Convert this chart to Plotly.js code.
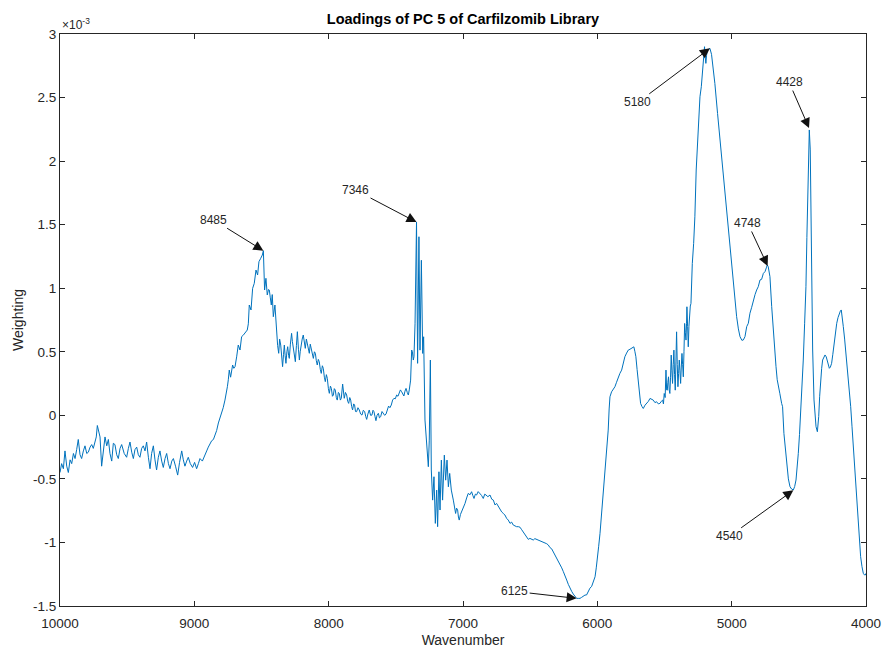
<!DOCTYPE html>
<html>
<head>
<meta charset="utf-8">
<script src="https://cdn.plot.ly/plotly-3.0.1.min.js"></script>
<style>html,body{margin:0;padding:0;background:#fff;}#chart{width:883px;height:648px;}</style>
</head>
<body>
<div id="chart"></div>
<script>
// Wavenumber (cm^-1) and PC5 loading (x10^-3)
const wavenumber = [
10000,9988,9975,9963,9950,9938,9925,9913,9900,9888,9876,9864,9851,9839,9826,9814,9801,9789,9776,9764,
9752,9740,9730,9722,9712,9702,9690,9678,9665,9652,9640,9628,9615,9603,9591,9578,9566,9553,9541,9522,
9504,9491,9479,9466,9454,9442,9429,9417,9405,9392,9380,9367,9355,9342,9330,9318,9305,9293,9281,9268,
9256,9243,9231,9218,9206,9193,9181,9168,9156,9140,9124,9110,9094,9082,9070,9057,9045,9030,9013,8998,
8983,8970,8958,8940,8921,8908,8896,8884,8871,8858,8846,8834,8821,
8809,8797,8785,8772,8763,8754,8747,8740,8730,8722,8715,8706,8697,8685,8673,8660,8648,8636,8623,8606,
8598,8591,8578,8566,8554,8541,8529,8519,8506,8494,8486,8477,8467,8457,8448,8442,8435,8427,8420,8412,
8400,8393,8387,8380,8372,8365,8357,8350,8343,8336,8330,8324,8318,8311,8305,8298,8293,8285,8276,8270,
8263,8255,8248,8240,8233,8225,8218,8212,8206,8197,8189,8181,8174,8166,8159,8151,8144,8137,8129,8121,
8114,8106,8099,8092,8085,8077,8070,8062,8055,8047,8040,8032,8025,8017,8010,8002,7995,7987,7980,7972,
7965,7958,7951,7943,7936,7928,7921,7913,7906,7896,7890,7884,7875,7866,7858,7851,7843,7836,7829,7822,
7814,7807,7800,7792,7782,7772,7762,7752,7742,7732,7724,7717,7708,7698,7688,7678,7670,7663,7655,7648,
7640,7630,7622,7613,7603,7593,7583,7573,7564,7554,7544,7534,7524,7514,7504,7494,7484,7474,7466,7457,
7448,7440,7432,7424,7415,7407,7400,7395,7390,7382,7377,7370,7365,7357,7350,7346,
7338,7328,7320,7310,7300,7293,7283,7271,7258,7251,7243,7236,7226,7216,7206,7196,7189,7179,7171,7161,
7152,7139,7129,7119,7109,7099,7087,7072,7063,7055,7048,7040,7034,7028,7019,7010,6998,6985,6973,6961,
6948,6936,6927,6918,6908,6899,6887,6874,6862,6849,6838,6829,6815,6799,6786,6774,6762,6750,6737,6725,
6712,6700,6688,6675,6663,6650,6638,6626,6613,6601,6588,6576,6563,6551,6538,6526,6514,6502,6490,6477,
6465,6452,6439,6427,6415,6402,6390,6377,6365,6353,6340,6328,6315,6303,6290,6278,6265,6253,6240,6228,
6216,6204,6191,6179,6166,6154,6142,6129,6117,6104,6092,6080,6067,6055,6042,6030,6017,6008,6000,5990,
5980,5970,5960,5950,5940,5930,5919,5912,5906,5894,5882,5869,5857,5844,5832,5819,5807,5795,5782,5770,
5757,5745,5728,5720,5713,5704,5695,5686,5678,5668,5658,5645,5633,5620,5608,5596,5584,5571,5559,5546,
5534,5524,5514,5508,5502,5495,5489,5484,5479,5475,5470,5465,5460,5455,5450,5445,5440,5435,5430,5425,
5420,5415,5410,5405,5400,5395,5390,5385,5380,5375,5370,5365,5360,5355,5350,5345,5340,5336,5333,5328,
5323,5318,5313,5308,5303,5298,5293,5283,5274,5264,5254,5244,5236,5226,5216,5209,5202,5197,5192,5187,
5182,5172,5162,5150,5142,5125,5105,5082,5063,5043,5023,5003,4983,4963,4950,4938,4924,4913,4901,4888,
4876,4864,4851,4839,4826,4814,4802,4789,4777,4764,4752,4742,4735,4728,4720,4715,4702,4690,4680,4670,
4661,4653,4641,4628,4621,4611,4600,4591,4578,4566,4554,4541,4531,4521,4512,4504,4495,4486,4477,4467,
4457,4447,4440,4432,4428,4422,4415,4407,4397,4387,4380,4372,4362,4352,4345,4338,4330,4323,4313,4305,
4296,4288,4280,4273,4265,4256,4247,4238,4228,4218,4208,4199,4191,4184,4176,4169,4159,4149,4141,4132,
4123,4114,4104,4094,4085,4075,4066,4057,4048,4040,4030,4020,4012,4005,4000
];
const loading = [
-0.45,-0.38,-0.42,-0.28,-0.40,-0.45,-0.35,-0.38,-0.30,-0.34,-0.27,-0.19,-0.31,-0.34,-0.28,-0.24,-0.30,-0.29,-0.25,-0.23,
-0.26,-0.20,-0.17,-0.08,-0.14,-0.17,-0.40,-0.26,-0.17,-0.24,-0.19,-0.30,-0.36,-0.22,-0.23,-0.31,-0.34,-0.26,-0.23,-0.30,
-0.33,-0.26,-0.21,-0.29,-0.34,-0.27,-0.25,-0.31,-0.33,-0.26,-0.24,-0.28,-0.21,-0.33,-0.42,-0.30,-0.24,-0.35,-0.43,-0.33,
-0.28,-0.36,-0.41,-0.34,-0.30,-0.38,-0.42,-0.36,-0.34,-0.40,-0.47,-0.37,-0.28,-0.35,-0.40,-0.36,-0.33,-0.38,-0.41,-0.37,
-0.42,-0.38,-0.34,-0.36,-0.32,-0.28,-0.25,-0.23,-0.20,-0.19,-0.16,-0.12,-0.06,
-0.02,0.016,0.06,0.12,0.16,0.225,0.28,0.356,0.30,0.36,0.396,0.37,0.383,0.46,0.553,0.514,0.619,0.63,0.645,0.671,
0.72,0.868,0.829,0.999,1.038,1.143,1.104,1.209,1.235,1.261,1.295,0.986,1.078,0.947,0.99,0.986,0.93,0.868,0.95,0.776,
0.868,0.75,0.645,0.55,0.488,0.60,0.553,0.45,0.383,0.48,0.553,0.47,0.409,0.50,0.540,0.47,0.448,0.56,0.645,0.58,
0.514,0.45,0.422,0.55,0.658,0.52,0.435,0.50,0.553,0.60,0.632,0.58,0.527,0.60,0.566,0.52,0.488,0.56,0.527,0.48,
0.448,0.50,0.488,0.43,0.396,0.44,0.422,0.36,0.330,0.39,0.370,0.30,0.265,0.32,0.291,0.21,0.173,0.23,0.212,0.15,
0.160,0.21,0.199,0.14,0.120,0.18,0.173,0.12,0.134,0.246,0.16,0.134,0.18,0.160,0.11,0.094,0.14,0.120,0.07,0.042,
0.09,0.081,0.03,0.029,0.06,0.042,0.01,0.002,0.04,0.029,-0.01,-0.032,0.01,0.042,0.00,0.002,0.04,0.029,-0.01,-0.042,
0.00,0.016,-0.02,-0.011,0.03,0.016,0.00,0.010,0.05,0.073,0.06,0.081,0.12,0.134,0.13,0.160,0.15,0.173,0.20,0.186,
0.17,0.152,0.19,0.212,0.18,0.160,0.20,0.265,0.277,0.514,0.50,0.435,0.461,0.72,1.10,1.52,
0.409,1.405,0.513,1.22,0.487,0.618,-0.037,-0.195,-0.404,-0.195,0.435,-0.43,-0.667,-0.483,-0.85,-0.588,-0.876,-0.444,-0.745,-0.352,
-0.667,-0.313,-0.51,-0.352,-0.562,-0.457,-0.588,-0.667,-0.72,-0.772,-0.73,-0.745,-0.80,-0.824,-0.78,-0.758,-0.72,-0.693,-0.65,-0.614,
-0.625,-0.601,-0.63,-0.654,-0.62,-0.627,-0.60,-0.614,-0.63,-0.654,-0.62,-0.627,-0.64,-0.627,-0.66,-0.667,-0.705,-0.693,-0.72,-0.745,
-0.76,-0.772,-0.784,-0.811,-0.824,-0.85,-0.84,-0.863,-0.87,-0.876,-0.876,-0.88,-0.90,-0.92,-0.94,-0.955,-0.976,-0.968,-0.975,-0.981,
-0.97,-0.976,-0.976,-0.985,-0.99,-0.994,-1.00,-1.01,-1.02,-1.04,-1.05,-1.073,-1.10,-1.125,-1.15,-1.178,-1.20,-1.23,-1.26,-1.296,
-1.33,-1.361,-1.385,-1.406,-1.42,-1.44,-1.44,-1.44,-1.432,-1.42,-1.414,-1.413,-1.38,-1.36,-1.345,-1.30,-1.27,-1.20,-1.138,-1.03,
-0.928,-0.80,-0.666,-0.50,-0.35,-0.22,-0.116,0.05,0.146,0.185,0.20,0.225,0.26,0.303,0.33,0.356,0.41,0.461,0.49,0.513,
0.52,0.526,0.539,0.50,0.461,0.36,0.251,0.17,0.094,0.07,0.054,0.08,0.094,0.11,0.133,0.125,0.12,0.10,0.107,0.09,
0.094,0.11,0.12,0.09,0.172,0.14,0.356,0.20,0.198,0.26,0.303,0.20,0.172,0.30,0.474,0.35,0.251,0.40,0.513,0.32,
0.198,0.42,0.657,0.40,0.225,0.33,0.435,0.35,0.251,0.38,0.487,0.40,0.303,0.50,0.723,0.65,0.592,0.72,0.854,0.70,
0.539,0.70,0.828,0.86,0.88,1.05,1.195,1.353,1.562,1.93,2.166,2.323,2.506,2.585,2.716,2.847,2.90,2.82,2.769,2.83,
2.874,2.879,2.887,2.84,2.769,2.611,2.375,2.113,1.877,1.641,1.405,1.195,0.985,0.776,0.68,0.619,0.59,0.593,0.619,0.698,
0.724,0.803,0.85,0.907,0.95,0.986,1.012,1.065,1.07,1.117,1.13,1.16,1.183,1.17,1.117,1.091,0.855,0.645,0.50,0.383,
0.28,0.225,0.17,0.094,0.068,-0.142,-0.28,-0.404,-0.50,-0.561,-0.58,-0.587,-0.56,-0.509,-0.42,-0.299,-0.15,0.016,0.22,0.435,
0.72,1.012,1.40,1.694,2.0,2.245,2.088,1.17,0.514,0.121,0.0,-0.089,-0.129,-0.01,0.15,0.278,0.37,0.435,0.46,0.475,
0.46,0.435,0.40,0.37,0.38,0.409,0.48,0.566,0.65,0.724,0.77,0.803,0.82,0.829,0.77,0.698,0.60,0.488,0.41,0.331,
0.20,0.068,-0.09,-0.247,-0.40,-0.561,-0.72,-0.876,-1.00,-1.112,-1.19,-1.243,-1.255,-1.256,-1.243
];

// Peak annotations
const peakLabels = ["8485","7346","6125","5180","4428","4748","4540"];
const peakX = [8486, 7346, 6154, 5162, 4424, 4732, 4541];
const peakY = [1.295, 1.52, -1.44, 2.887, 2.26, 1.175, -0.59];

// Tick labels
const xTickVals = [10000, 9000, 8000, 7000, 6000, 5000, 4000];
const xTickText = ["10000","9000","8000","7000","6000","5000","4000"];
const yTickVals = [-1.5, -1, -0.5, 0, 0.5, 1, 1.5, 2, 2.5, 3];
const yTickText = ["-1.5","-1","-0.5","0","0.5","1","1.5","2","2.5","3"];

const FONT = "'Liberation Sans', Arial, Helvetica, sans-serif";
const AX = '#262626';

const offsets = [[-50,-31],[-61,-32],[-62,-7],[-72,54],[-20,-46],[-20,-43],[-64,46]];
const annotations = peakLabels.map((t, i) => ({
  x: peakX[i], y: peakY[i], xref: 'x', yref: 'y',
  text: t, showarrow: true, arrowhead: 2, arrowsize: 2.0, arrowwidth: 1,
  arrowcolor: '#111', ax: offsets[i][0], ay: offsets[i][1],
  font: {family: FONT, size: 12, color: '#262626'}
}));
annotations.push({
  xref: 'paper', yref: 'paper', x: 0, y: 1, xanchor: 'left', yanchor: 'bottom',
  text: '\u00d710<sup>-3</sup>', showarrow: false,
  font: {family: FONT, size: 12, color: AX}
});

const trace = {
  x: wavenumber, y: loading, type: 'scatter', mode: 'lines',
  line: {color: '#0072BD', width: 1}, hoverinfo: 'skip'
};

const layout = {
  width: 883, height: 648,
  margin: {l: 60, r: 17, t: 34, b: 42, pad: 0},
  paper_bgcolor: '#fff', plot_bgcolor: '#fff',
  showlegend: false,
  title: {
    text: 'Loadings of PC 5 of Carfilzomib Library',
    font: {family: FONT, size: 14.5, color: '#000', weight: 'bold'},
    x: 0.5, xref: 'paper', y: 1 - 19/648, yref: 'container', yanchor: 'middle'
  },
  xaxis: {
    range: [10000, 4000], tickvals: xTickVals, ticktext: xTickText,
    ticks: 'inside', ticklen: 5, tickwidth: 1, tickcolor: AX,
    showline: true, linecolor: AX, linewidth: 1, mirror: 'ticks',
    showgrid: false, zeroline: false, ticklabelstandoff: 5,
    tickfont: {family: FONT, size: 13.5, color: AX},
    title: {text: 'Wavenumber', font: {family: FONT, size: 14, color: AX}, standoff: 4}
  },
  yaxis: {
    range: [-1.5, 3], tickvals: yTickVals, ticktext: yTickText,
    ticks: 'inside', ticklen: 5, tickwidth: 1, tickcolor: AX,
    showline: true, linecolor: AX, linewidth: 1, mirror: 'ticks',
    showgrid: false, zeroline: false,
    tickfont: {family: FONT, size: 13.5, color: AX},
    title: {text: 'Weighting', font: {family: FONT, size: 14, color: AX}, standoff: 6}
  },
  annotations: annotations
};

Plotly.newPlot('chart', [trace], layout, {displayModeBar: false, staticPlot: true});
</script>
</body>
</html>
